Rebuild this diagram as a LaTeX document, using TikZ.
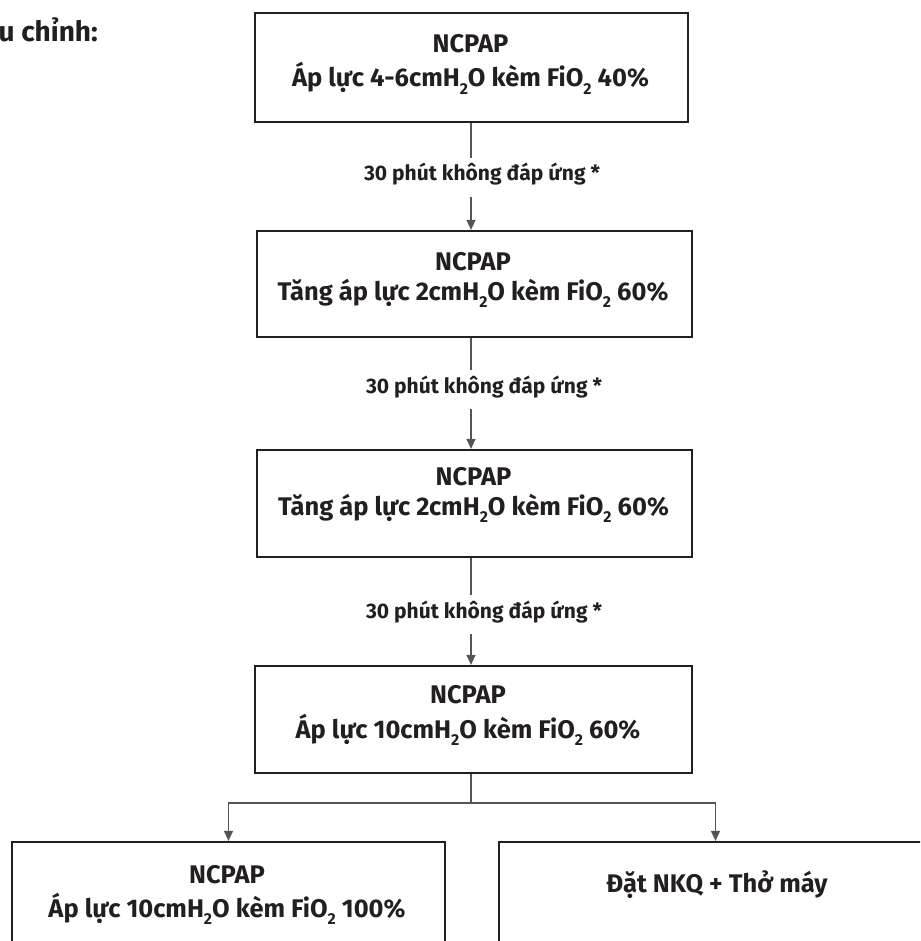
\documentclass[tikz,border=0pt]{standalone}
\usepackage{fontspec}
\setmainfont{Fira Sans}
\usepackage{graphicx}
\usetikzlibrary{arrows.meta}
\definecolor{ink}{HTML}{231F20}
\definecolor{wire}{HTML}{555555}
% lowered subscript two for H2O and FiO2
\newcommand\subtwo{\raisebox{-0.55ex}{\scalebox{0.62}{2}}}
\begin{document}
\begin{tikzpicture}[x=1pt,y=-1pt,
  stepbox/.style={draw=ink, line width=2.2pt, rectangle, inner sep=0pt},
  boxtext/.style={text=ink, inner sep=0pt, anchor=base, font=\bfseries\fontsize{25.5}{30}\selectfont},
  steplabel/.style={text=ink, inner sep=0pt, anchor=base, text height=23pt, text depth=16pt,
    font=\bfseries\fontsize{21}{25}\selectfont},
  conn/.style={draw=wire, line width=1.3pt},
  arr/.style={conn, -{Triangle[length=10pt,width=9pt]}}]
\useasboundingbox (0,0) rectangle (920,941);
\clip (0,0) rectangle (920,941);

% heading, cut at the left edge
\node[boxtext, anchor=base east, font=\bfseries\fontsize{28}{32}\selectfont] (head) at (98,42) {u chỉnh:};

% boxes
\node[stepbox, minimum width=433pt, minimum height=109pt] (b1) at (471.5,67.5) {};
\node[stepbox, minimum width=435pt, minimum height=106pt] (b2) at (474.5,284) {};
\node[stepbox, minimum width=435pt, minimum height=107pt] (b3) at (474.5,503.5) {};
\node[stepbox, minimum width=437pt, minimum height=107pt] (b4) at (473.5,719.5) {};
\node[stepbox, minimum width=433pt, minimum height=140pt] (b5) at (228.5,912) {};
\node[stepbox, minimum width=433pt, minimum height=140pt] (b6) at (715.5,912) {};

% box texts
\node[boxtext] (b1a) at (470.5,53) {NCPAP};
\node[boxtext] (b1b) at (470.5,87) {Áp lực 4-6cmH\subtwo O kèm FiO\subtwo{} 40\%};
\node[boxtext] (b2a) at (473,270) {NCPAP};
\node[boxtext] (b2b) at (473,300) {Tăng áp lực 2cmH\subtwo O kèm FiO\subtwo{} 60\%};
\node[boxtext] (b3a) at (473.5,485) {NCPAP};
\node[boxtext] (b3b) at (473.5,515) {Tăng áp lực 2cmH\subtwo O kèm FiO\subtwo{} 60\%};
\node[boxtext] (b4a) at (468,703) {NCPAP};
\node[boxtext] (b4b) at (468,738) {Áp lực 10cmH\subtwo O kèm FiO\subtwo{} 60\%};
\node[boxtext] (b5a) at (227,883) {NCPAP};
\node[boxtext] (b5b) at (227,917) {Áp lực 10cmH\subtwo O kèm FiO\subtwo{} 100\%};
\node[boxtext] (b6a) at (717,892) {Đặt NKQ + Thở máy};

% step labels
\node[steplabel] (l1) at (482,181) {30 phút không đáp ứng *};
\node[steplabel] (l2) at (484,393) {30 phút không đáp ứng *};
\node[steplabel] (l3) at (484,618) {30 phút không đáp ứng *};

% vertical chain
\coordinate (x1) at (471,0);
\draw[conn] (b1.south -| x1) -- (l1.north -| x1);
\draw[arr]  (l1.south -| x1) -- (b2.north -| x1);
\draw[conn] (b2.south -| x1) -- (l2.north -| x1);
\draw[arr]  (l2.south -| x1) -- (b3.north -| x1);
\draw[conn] (b3.south -| x1) -- (l3.north -| x1);
\draw[arr]  (l3.south -| x1) -- (b4.north -| x1);

% split to the two outcomes
\coordinate (j) at (471,803);
\draw[conn] (b4.south -| j) -- (j);
\draw[arr] (j) -| (b5.north);
\draw[arr] (j) -| (b6.north);
\end{tikzpicture}
\end{document}
